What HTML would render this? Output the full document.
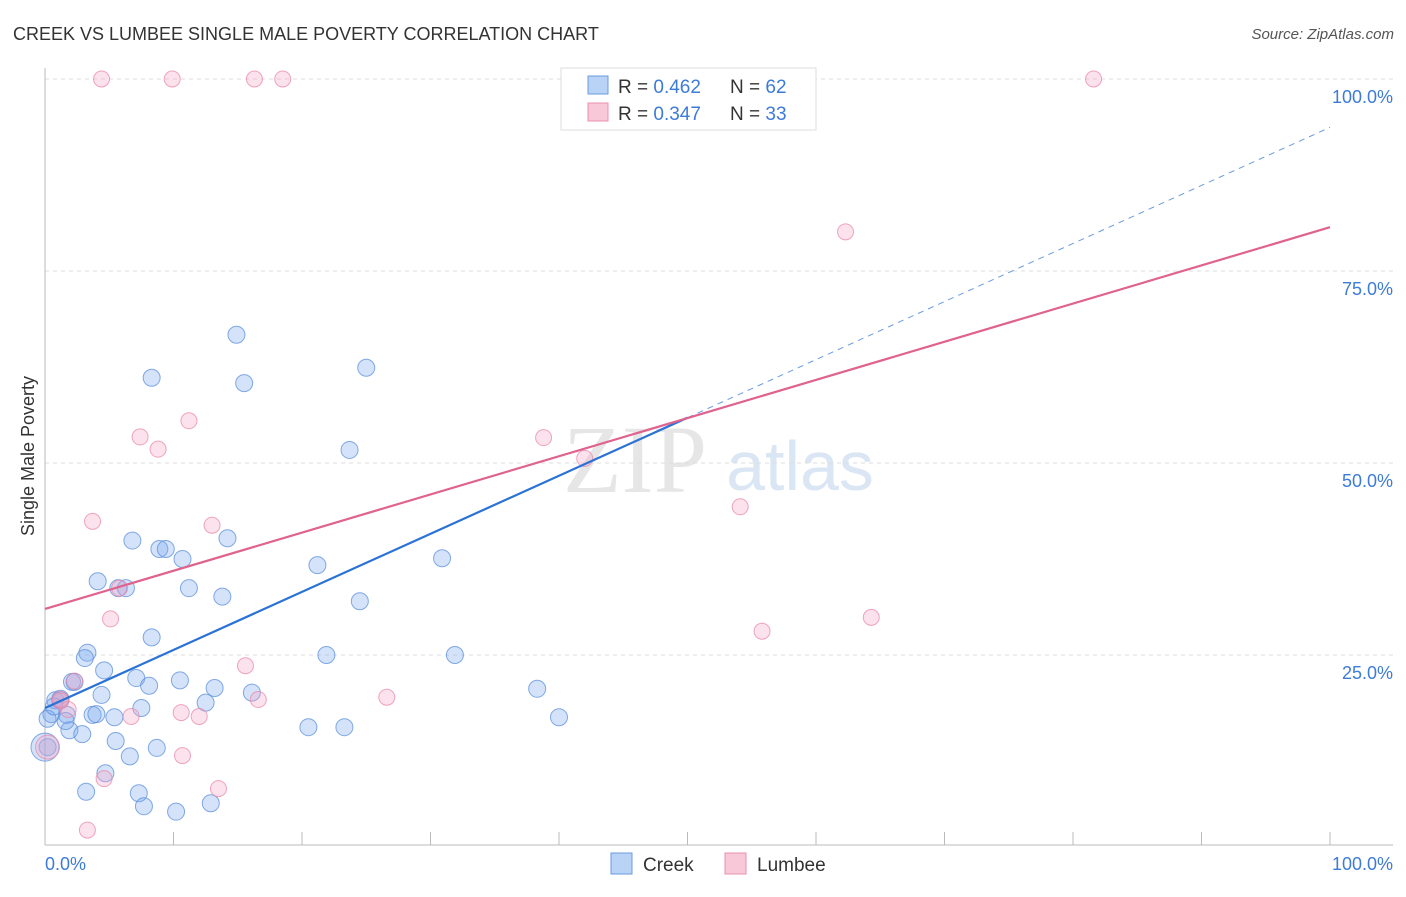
<!DOCTYPE html>
<html><head><meta charset="utf-8"><style>
body{margin:0;background:#fff;font-family:"Liberation Sans",sans-serif}
</style></head><body>
<svg width="1406" height="892" xmlns="http://www.w3.org/2000/svg">
<text x="13" y="40" font-size="18" fill="#333">CREEK VS LUMBEE SINGLE MALE POVERTY CORRELATION CHART</text>
<text x="1394" y="39" font-size="15" fill="#555" font-style="italic" text-anchor="end">Source: ZipAtlas.com</text>
<text x="635" y="492" font-size="96" fill="#e6e6e6" font-family="Liberation Serif,serif" text-anchor="middle">ZIP</text>
<text x="800" y="490" font-size="70" fill="#dbe6f5" text-anchor="middle">atlas</text>
<g id="grid"></g><g id="axes"></g><g id="marks"></g>
<text transform="translate(34,456) rotate(-90)" font-size="18" fill="#333" text-anchor="middle">Single Male Poverty</text>
<text x="45" y="870" font-size="18" fill="#3d7bd9">0.0%</text>
<text x="1393" y="870" font-size="18" fill="#3d7bd9" text-anchor="end">100.0%</text>
<g>
<rect x="561" y="68" width="255" height="62" fill="#fff" stroke="#ddd"/>
<rect x="588" y="76" width="20" height="18" fill="#b8d3f5" stroke="#6a9be0"/>
<rect x="588" y="103" width="20" height="18" fill="#f9c8d8" stroke="#e890ae"/>
<text x="618" y="93" font-size="19" fill="#333">R = <tspan fill="#3d7bd9">0.462</tspan></text>
<text x="730" y="93" font-size="19" fill="#333">N = <tspan fill="#3d7bd9">62</tspan></text>
<text x="618" y="120" font-size="19" fill="#333">R = <tspan fill="#3d7bd9">0.347</tspan></text>
<text x="730" y="120" font-size="19" fill="#333">N = <tspan fill="#3d7bd9">33</tspan></text>
</g>
<g>
<rect x="611" y="853" width="21" height="21" fill="#b8d3f5" stroke="#6a9be0"/>
<text x="643" y="871" font-size="19" fill="#333">Creek</text>
<rect x="725" y="853" width="21" height="21" fill="#f9c8d8" stroke="#e890ae"/>
<text x="757" y="871" font-size="19" fill="#333">Lumbee</text>
</g>
</svg>
<script>
const yTicks=[25,50,75,100];
const yTickLabels=["25.0%","50.0%","75.0%","100.0%"];
const creekX=[14.9,8.3,15.5,25,23.7,6.8,8.9,9.4,10.7,14.2,4.1,5.7,6.3,11.2,13.8,21.2,24.5,30.9,8.3,3.3,3.1,4.6,2.1,2.3,7.1,8.1,10.5,13.2,1.2,0.8,4.4,16.1,12.5,38.3,1.7,3.7,4.0,5.4,7.5,0.5,0.2,1.9,2.9,5.5,8.7,6.6,20.5,23.3,40,21.9,31.9,4.7,7.3,3.2,7.7,10.2,12.9,0.2,1.2,0.7,0.0,1.6];
const creekY=[66.7,61.1,60.4,62.4,51.7,39.9,38.8,38.8,37.5,40.2,34.6,33.7,33.7,33.7,32.6,36.7,32,37.6,27.3,25.3,24.6,23.0,21.5,21.5,22.0,21.0,21.7,20.7,19.3,19.1,19.8,20.1,18.8,20.6,17.2,17.2,17.3,16.9,18.1,17.3,16.7,15.2,14.7,13.8,12.9,11.8,15.6,15.6,16.9,25,25,9.6,7,7.2,5.3,4.6,5.7,13,19.1,18.3,13,16.4];
const creekR=[8.5,8.5,8.5,8.5,8.5,8.5,8.5,8.5,8.5,8.5,8.5,8.5,8.5,8.5,8.5,8.5,8.5,8.5,8.5,8.5,8.5,8.5,8.5,8.5,8.5,8.5,8.5,8.5,8.5,8.5,8.5,8.5,8.5,8.5,8.5,8.5,8.5,8.5,8.5,8.5,8.5,8.5,8.5,8.5,8.5,8.5,8.5,8.5,8.5,8.5,8.5,8.5,8.5,8.5,8.5,8.5,8.5,8.5,8.5,8.5,14,8.5];
const lumbeeX=[4.4,9.9,16.3,18.5,81.6,62.3,11.2,7.4,8.8,38.8,42,3.7,13,54.1,5.1,55.8,64.3,5.8,2.3,1.2,15.6,26.6,16.6,10.6,12,6.7,10.7,4.6,13.5,3.3,0.2,1.8,1.2];
const lumbeeY=[100,100,100,100,100,80.1,55.5,53.4,51.8,53.3,50.6,42.4,41.9,44.3,29.7,28.1,29.9,33.7,21.6,19.0,23.6,19.5,19.2,17.5,17,17,11.9,8.9,7.6,2.2,13,17.9,19.2];
const lumbeeR=[8,8,8,8,8,8,8,8,8,8,8,8,8,8,8,8,8,8,8,8,8,8,8,8,8,8,8,8,8,8,12,8,8];
const creekLine=[18.1,93.7];
const lumbeeLine=[31.0,80.7];
const NS="http://www.w3.org/2000/svg";
const sx=v=>45+v*12.85, sy=v=>847-v*7.68;
function mk(p,t,a){const e=document.createElementNS(NS,t);for(const k in a)e.setAttribute(k,a[k]);document.getElementById(p).appendChild(e);return e;}
yTicks.forEach((t,i)=>{
 const l=mk('grid','line',{x1:45,x2:1393,y1:sy(t),y2:sy(t),stroke:'#ddd','stroke-dasharray':'4,4'});
 
 
 const tx=mk('grid','text',{x:1393,y:sy(t)+24,'font-size':18,fill:'#3d7bd9','text-anchor':'end'});
 tx.textContent=yTickLabels[i];
 
 
});
const ax=mk('axes','line',{x1:45,x2:1393,y1:845,y2:845,stroke:'#bbb'});


const ay=mk('axes','line',{x1:45,x2:45,y1:68,y2:845,stroke:'#bbb'});


for(let i=1;i<=10;i++){const t=mk('axes','line',{x1:sx(i*10),x2:sx(i*10),y1:832,y2:845,stroke:'#bbb'});
 
 }
function pts(X,Y,R,fill,stroke,name){X.forEach((x,i)=>{const c=mk('marks','circle',{cx:sx(x),cy:sy(Y[i]),r:R[i],fill:fill,stroke:stroke,'stroke-width':1,'stroke-opacity':0.75});
 
 });}
pts(creekX,creekY,creekR,'rgba(120,168,235,0.32)','#5b8fdc','creek-point');
pts(lumbeeX,lumbeeY,lumbeeR,'rgba(245,165,195,0.32)','#e88aa8','lumbee-point');
const cm=creekLine[0]+(creekLine[1]-creekLine[0])*0.5;
const l1=mk('marks','line',{x1:sx(0),y1:sy(creekLine[0]),x2:sx(50),y2:sy(cm),stroke:'#2a72d5','stroke-width':2.2});


const l2=mk('marks','line',{x1:sx(50),y1:sy(cm),x2:sx(100),y2:sy(creekLine[1]),stroke:'#6a9be0','stroke-width':1,'stroke-dasharray':'6,5'});


const l3=mk('marks','line',{x1:sx(0),y1:sy(lumbeeLine[0]),x2:sx(100),y2:sy(lumbeeLine[1]),stroke:'#e0628e','stroke-width':2.2});


</script>
</body></html>
